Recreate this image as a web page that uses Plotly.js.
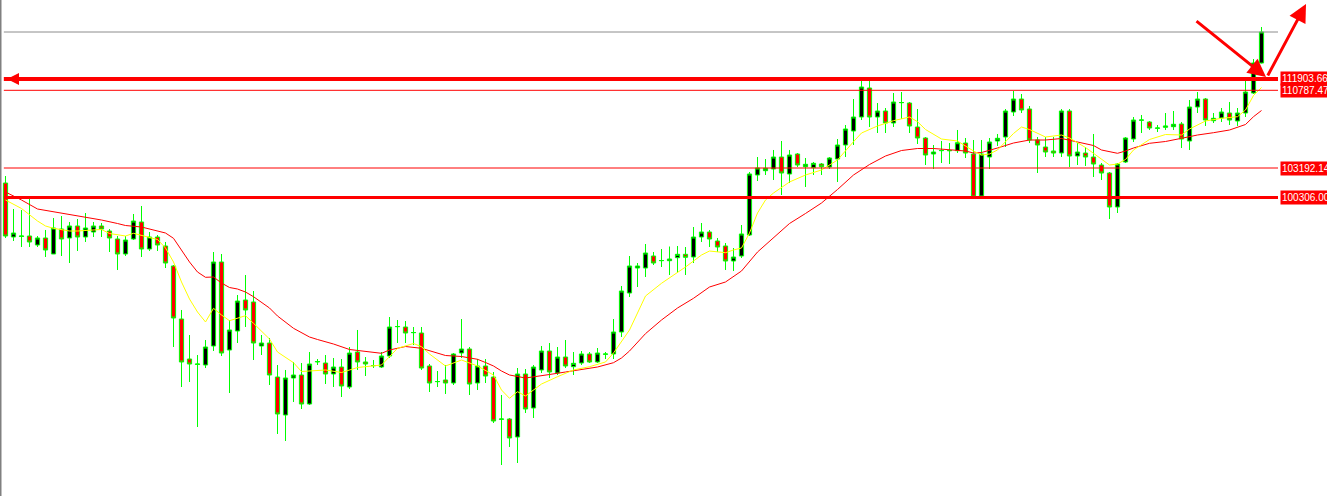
<!DOCTYPE html>
<html><head><meta charset="utf-8">
<script src="https://cdn.plot.ly/plotly-3.0.1.min.js"></script>
<style>html,body{margin:0;padding:0;background:#fff;overflow:hidden}#chart{width:1327px;height:496px}</style>
</head><body><div id="chart"></div>
<script>
// ---- candle data (one bar per period) ----
const open = [101726,96447,96496,96545,95665,96350,94786,97229,96350,97523,
96447,96936,97523,97034,96252,94786,96252,97914,95274,96447,
95568,93613,88432,84522,83984,83935,85793,94004,85402,87259,
90289,90094,85793,86086,82762,79048,82665,82958,80123,84229,
84131,83056,83740,81785,85206,84229,83867,83740,84815,87679,
87650,87093,87063,83838,82303,82469,82176,85108,85499,82176,
83838,82762,78627,78657,76897,83056,79732,83447,85304,83153,
84717,83769,84131,85011,84229,84981,85011,87161,90973,93417,
93417,94590,94131,94131,94424,94756,94492,96447,96936,96056,
95568,94101,94590,96643,102508,102928,103094,104267,102606,104561,
103319,103221,103583,103290,104072,105440,106809,108177,111012,108177,
108764,107591,109575,109546,107200,106125,104561,104883,104873,104883,
105636,104561,100455,104267,105831,106222,108666,109937,108959,105929,
105245,104854,104658,108764,104365,104658,104267,103485,102703,99380,
103779,106027,107864,107689,107073,107170,107229,107493,105831,109155,
109937,107816,108080,108568,107786,108568,110523,113456];
const high = [102410,99184,99087,100162,96545,97132,98305,98500,97914,98207,
98793,97914,97816,97229,96545,96545,98696,99478,96936,96643,
95959,93710,89312,86868,84913,86379,94981,94786,88334,90778,
92733,91169,86868,86575,83935,83447,84229,84131,85206,84522,
84913,84620,84522,85695,87357,84717,84424,85206,88627,88334,
88236,87650,87650,84033,83349,83935,85108,88432,85695,84522,
84522,83251,81003,78755,83642,83544,83935,85793,86086,85695,
86379,85206,85304,85206,85597,85206,88432,91658,94590,93906,
95763,94981,95274,95519,95568,95470,97425,97816,97132,96350,
95861,95372,97620,102801,104267,104072,104952,105831,104952,104658,
104170,103779,103681,104267,106027,107395,109937,111892,111794,109546,
109057,110523,110621,109644,108959,106222,105440,105831,105636,106907,
106125,105929,105929,106125,106516,108959,110719,110426,109253,106222,
106222,106222,108959,108959,105636,105245,106516,103681,102801,103681,
106222,108177,108373,107786,107395,108568,108764,107689,109839,110621,
110035,108568,109057,109644,109057,111794,113847,116975];
const low = [96350,96056,95470,95470,95470,94492,94780,94590,93906,95079,
95959,96447,96447,94981,93222,94590,96154,94492,95079,95079,
93417,85695,81785,82274,77875,83642,85304,84815,81198,86086,
87650,84424,84913,81980,77191,76506,80319,79634,80025,83935,
82078,81785,80807,81589,83447,82860,83642,83642,84620,86086,
86086,85890,83447,81296,81785,81101,81980,84620,81003,81492,
82176,78266,74160,75920,74356,79243,78755,83153,82665,82958,
83642,82958,83935,84131,84131,84522,84522,86672,90582,91560,
92537,93710,93515,92733,92928,92733,93906,95959,95470,94981,
93222,93124,94395,96545,101921,102508,102019,100553,101726,103290,
101335,102508,102508,103094,101824,104267,105440,107884,107200,106613,
106613,107200,107982,106613,105538,103485,103094,103681,103583,104658,
104170,100308,100357,103094,105343,105245,108275,108568,105636,102703,
104267,104267,104267,103290,103485,103388,102312,102019,98207,98793,
103681,105734,106613,106907,106711,106907,106907,105147,104952,108568,
107298,107591,107689,107395,107298,108177,110426,113407];
const close = [96545,96838,96545,95959,96350,95177,97327,96252,97523,96447,
97327,97523,97229,96350,94786,96154,98011,95274,96447,95665,
93906,88530,84229,84033,84033,85695,94004,85108,87357,90191,
89312,86086,86086,82958,79146,82665,82958,80123,84033,84277,
83056,83740,81883,85108,84229,84033,83886,84815,87650,87699,
87063,87112,83642,82176,82322,82176,85011,85499,82078,83838,
82860,78461,78657,76800,83056,79634,83740,85304,83251,84717,
83838,84101,85011,84229,85108,85011,87161,91169,93613,93613,
94883,93906,94150,94297,94756,94463,96447,96936,96252,95470,
94101,94492,96741,102606,103192,103163,104267,102703,104463,103485,
103554,103651,103319,104170,105440,107004,108177,111110,108177,108764,
107591,109644,109595,107298,106125,104463,104756,104903,104903,105665,
104658,100357,104561,105734,106095,108764,109937,108862,105929,105440,
104756,104658,108764,104365,104756,104267,103583,102703,99380,103583,
106125,107884,107884,107102,107102,107298,107464,106027,109155,109937,
107884,108050,108666,107884,108568,110621,113456,116486];

// ---- moving averages (bar index, value) ----
const slowMaIdx = [0,2,4,7,9,12,14,15,17,18,20,21,22,23,24,25,26,27,28,29,30,31,33,34,36,38,39,41,43,45,47,48,50,52,54,55,57,59,60,61,62,63,65,67,68,70,73,74,76,77,78,80,82,84,86,88,90,92,94,96,98,100,102,104,106,108,110,112,114,116,118,120,121,122,124,126,128,130,132,134,136,137,139,140,141,143,145,147,149,151,153,155,156,157];
const slowMaVal = [100846,100064,99184,98793,98500,98109,97767,97571,97425,97229,96838,96320,95177,94004,93026,92508,92537,91951,91511,91364,91071,90612,89507,88725,87522,86672,86428,85988,85451,85236,85079,85402,85744,85568,85138,84863,84766,84493,84180,83838,83349,82958,82665,82860,83007,83251,83613,83740,84160,84620,85304,87000,88334,89507,90455,91560,92049,93124,94981,96350,97767,98745,99771,101090,102508,103534,104365,104903,105098,105098,105000,104854,104658,104707,105147,105636,105929,105929,106076,105734,105391,104952,104629,104854,105147,105606,105783,106095,106418,106643,106906,107444,108207,108813];
const fastMaIdx = [0,2,4,5,6,8,9,12,13,15,16,18,19,20,21,22,23,24,25,26,27,28,30,31,33,34,36,37,40,42,44,47,49,51,52,53,55,57,59,61,62,63,64,65,67,69,71,73,75,76,78,80,82,85,87,88,90,91,92,93,94,95,96,98,100,102,104,106,107,109,111,113,114,115,117,119,121,122,123,124,126,127,128,130,132,133,135,136,138,139,140,141,143,145,147,148,150,152,154,155,156,157];
const fastMaVal = [100064,99233,98011,97523,97298,97034,97034,97181,96790,96545,96809,96398,96203,95372,94004,92049,90387,89116,88139,89478,88823,88266,88754,88011,86476,85206,84161,83300,83447,83202,83691,83935,85568,86037,85724,85011,83838,84424,83838,82958,81492,80680,81326,80905,82078,82791,83447,83769,84229,85108,87357,90680,91921,93515,94688,95079,94913,95177,95372,96838,98793,100064,100748,101824,102508,102997,103974,105763,106613,107298,107816,108177,107718,106955,106027,105831,104854,104463,104561,104952,106565,107200,106955,106222,106418,106125,105196,104629,103485,103583,104023,104952,105978,106467,106418,107004,107786,108050,108207,108862,110279,111061];

// ---- horizontal levels and their price labels ----
const levels = [111903.66, 110787.47, 103192.14, 100306.00];
const levelLabels = ['111903.66', '110787.47', '103192.14', '100306.00'];

const barIndex = open.map((_, i) => i);
const levelWidths = [4, 1, 1, 3];
const RED = '#ff0000';

const traces = [
  {
    type: 'candlestick', x: barIndex, open: open, high: high, low: low, close: close,
    increasing: {line: {color: '#00ff00', width: 1}, fillcolor: '#000000'},
    decreasing: {line: {color: '#00ff00', width: 1}, fillcolor: '#ff0000'},
    whiskerwidth: 0, showlegend: false, hoverinfo: 'skip'
  },
  {type: 'scatter', mode: 'lines', x: slowMaIdx, y: slowMaVal, line: {color: '#ff0000', width: 1}, showlegend: false, hoverinfo: 'skip'},
  {type: 'scatter', mode: 'lines', x: fastMaIdx, y: fastMaVal, line: {color: '#ffff00', width: 1}, showlegend: false, hoverinfo: 'skip'}
];

const PW = 1278, PH = 496;
const shapes = [];
// bid line at last close
shapes.push({type: 'line', xref: 'paper', yref: 'y', x0: 0.003, x1: 1, y0: close[close.length - 1], y1: close[close.length - 1], line: {color: '#8c8c8c', width: 1}, layer: 'above'});
levels.forEach((lv, k) => {
  shapes.push({type: 'line', xref: 'paper', yref: 'y', x0: 0.003, x1: 1, y0: lv, y1: lv, line: {color: RED, width: levelWidths[k]}, layer: 'above'});
});
// left frame edge
shapes.push({type: 'line', xref: 'paper', yref: 'paper', x0: 0, x1: 0, y0: 0, y1: 1, line: {color: '#808080', width: 3}});

const annotations = levels.map((lv, k) => ({
  xref: 'paper', yref: 'y', x: 1280 / PW, y: lv, xanchor: 'left', yanchor: 'middle',
  text: levelLabels[k], showarrow: false, bgcolor: RED, borderpad: 1,
  font: {family: 'Liberation Sans, Arial, sans-serif', size: 10, color: '#ffffff'}
}));
// drawn arrows
annotations.push({xref: 'paper', yref: 'paper', x: 1266 / PW, y: 1 - 77 / PH, ax: -71, ay: -57, text: '', showarrow: true, arrowhead: 2, arrowsize: 1.2, arrowwidth: 3, arrowcolor: RED, standoff: 0});
annotations.push({xref: 'paper', yref: 'paper', x: 1306 / PW, y: 1 - 4 / PH, ax: -39, ay: 73, text: '', showarrow: true, arrowhead: 2, arrowsize: 1.2, arrowwidth: 3, arrowcolor: RED, standoff: 0});
annotations.push({xref: 'paper', yref: 'y', x: 7 / PW, y: levels[0], ax: 28, ay: 0, text: '', showarrow: true, arrowhead: 2, arrowsize: 1.2, arrowwidth: 2, arrowcolor: RED, standoff: 0});

const x0 = -0.6875;
const layout = {
  width: 1327, height: 496,
  margin: {l: 0, r: 49, t: 0, b: 0, pad: 0},
  paper_bgcolor: '#ffffff', plot_bgcolor: '#ffffff',
  boxgap: 0.25,
  showlegend: false,
  xaxis: {range: [x0, x0 + PW / 8], showgrid: false, zeroline: false, showticklabels: false, ticks: '', showline: false, rangeslider: {visible: false}, fixedrange: true},
  yaxis: {range: [71130, 119614], showgrid: false, zeroline: false, showticklabels: false, ticks: '', showline: false, fixedrange: true},
  shapes: shapes,
  annotations: annotations
};

Plotly.newPlot('chart', traces, layout, {staticPlot: true, displayModeBar: false});
</script>
</body></html>
